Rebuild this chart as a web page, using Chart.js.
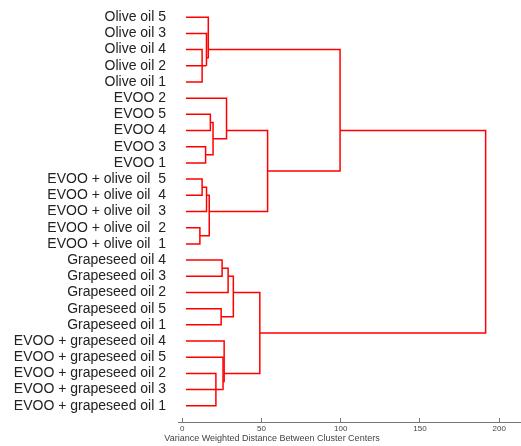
<!DOCTYPE html>
<html>
<head>
<meta charset="utf-8">
<script src="https://cdn.jsdelivr.net/npm/chart.js@4"></script>
<style>
  html, body { margin: 0; padding: 0; background: #fff; }
  #wrap { width: 521px; height: 446px; }
</style>
</head>
<body>
<div id="wrap"><canvas id="dendro"></canvas></div>
<script>
// leaves, top to bottom
var leaves = [
  'Olive oil 5', 'Olive oil 3', 'Olive oil 4', 'Olive oil 2', 'Olive oil 1',
  'EVOO 2', 'EVOO 5', 'EVOO 4', 'EVOO 3', 'EVOO 1',
  'EVOO + olive oil  5', 'EVOO + olive oil  4', 'EVOO + olive oil  3', 'EVOO + olive oil  2', 'EVOO + olive oil  1',
  'Grapeseed oil 4', 'Grapeseed oil 3', 'Grapeseed oil 2', 'Grapeseed oil 5', 'Grapeseed oil 1',
  'EVOO + grapeseed oil 4', 'EVOO + grapeseed oil 5', 'EVOO + grapeseed oil 2', 'EVOO + grapeseed oil 3', 'EVOO + grapeseed oil 1'
];

// linkage: merge k creates node 25 + k from mergeA[k] and mergeB[k]
var mergeA = [2, 25, 1, 0, 8, 6, 30, 5, 13, 10, 34, 35, 32, 28, 18, 15, 40, 41, 22, 23, 21, 20, 42, 38];
var mergeB = [4, 3, 26, 27, 9, 7, 29, 31, 14, 11, 12, 33, 36, 37, 19, 16, 17, 39, 24, 43, 44, 45, 46, 47];
var mergeHeight = [12.6, 15.2, 15.5, 16.5, 14.8, 17.8, 19.5, 28.0, 11.2, 12.6, 15.4, 17.1, 53.9, 99.6,
                   24.6, 25.2, 29.0, 32.3, 21.3, 25.3, 25.8, 26.5, 49.0, 191.4];
var leafHeight = 2.4;

var xTicks = [0, 50, 100, 150, 200];

// node positions: leaves at 1..n, clusters at mean of their leaves
var pos = [], cnt = [], hgt = [];
leaves.forEach(function(l, i) { pos[i] = i + 1; cnt[i] = 1; hgt[i] = leafHeight; });

var datasets = [];
mergeA.forEach(function(a, k) {
  var b = mergeB[k], id = leaves.length + k;
  cnt[id] = cnt[a] + cnt[b];
  pos[id] = (pos[a] * cnt[a] + pos[b] * cnt[b]) / cnt[id];
  hgt[id] = mergeHeight[k];
  datasets.push({
    data: [
      { x: hgt[a], y: pos[a] },
      { x: hgt[id], y: pos[a] },
      { x: hgt[id], y: pos[b] },
      { x: hgt[b], y: pos[b] }
    ],
    showLine: true,
    borderColor: '#ff0000',
    borderWidth: 1.5,
    pointRadius: 0,
    fill: false,
    clip: false
  });
});

new Chart(document.getElementById('dendro'), {
  type: 'scatter',
  data: { datasets: datasets },
  options: {
    responsive: true,
    maintainAspectRatio: false,
    animation: false,
    layout: { padding: { top: 1, left: 23, right: 0, bottom: 0 } },
    plugins: {
      legend: { display: false },
      tooltip: { enabled: false },
      title: {
        display: true,
        position: 'bottom',
        text: 'Variance Weighted Distance Between Cluster Centers',
        color: '#444',
        font: { family: 'Arial', size: 9, weight: 'normal' },
        padding: { top: 0, bottom: 2 }
      }
    },
    scales: {
      x: {
        type: 'linear',
        position: 'bottom',
        min: -2.6,
        max: 213.7,
        afterBuildTicks: function(scale) {
          scale.ticks = xTicks.map(function(v) { return { value: v }; });
        },
        afterFit: function(scale) {
          scale.height = 11.2;
          scale.paddingLeft = 0; scale.paddingRight = 0;
        },
        grid: { display: true, drawOnChartArea: false, drawTicks: true, tickLength: -4, color: '#777' },
        border: { display: true, color: '#777', width: 1 },
        ticks: {
          color: '#444',
          padding: 6,
          maxRotation: 0,
          font: { family: 'Arial', size: 8 }
        }
      },
      y: {
        type: 'linear',
        reverse: true,
        min: 0,
        max: leaves.length + 1,
        afterBuildTicks: function(scale) {
          scale.ticks = leaves.map(function(l, i) { return { value: i + 1 }; });
        },
        afterFit: function(scale) {
          scale.width = 155;
          scale.paddingTop = 0; scale.paddingBottom = 0;
          // let the long labels run into the left padding
          scale._computeLabelArea = function() {};
        },
        grid: { display: false, drawTicks: false },
        border: { display: false },
        ticks: {
          autoSkip: false,
          color: '#222',
          padding: 12,
          font: { family: 'Arial', size: 14 },
          callback: function(v) { return leaves[v - 1]; }
        }
      }
    }
  }
});
</script>
</body>
</html>
